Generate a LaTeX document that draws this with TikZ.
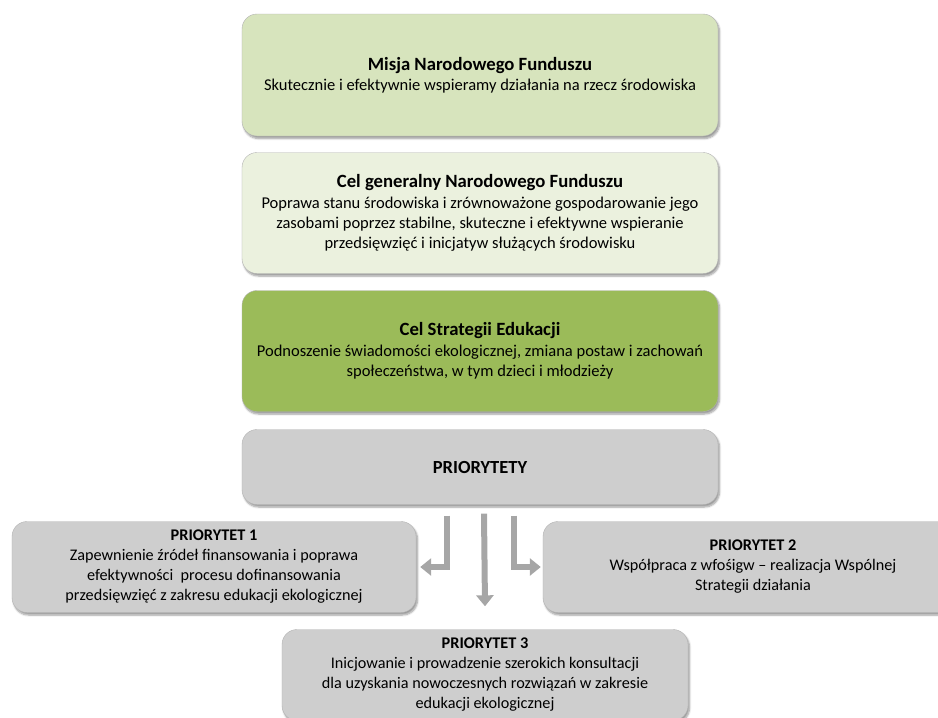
\documentclass[tikz,border=0pt]{standalone}
\usepackage{fontspec}
\setmainfont{Carlito}
\usepackage{xcolor}
\usepackage{tikz}
\usetikzlibrary{shapes.geometric, arrows.meta, positioning, shadows.blur}
\definecolor{zielen1}{RGB}{215,228,189}
\definecolor{zielen2}{RGB}{235,241,222}
\definecolor{zielen3}{RGB}{155,187,89}
\definecolor{szary}{RGB}{206,206,206}
\definecolor{strzalka}{RGB}{166,166,166}
\newcommand{\tytul}[1]{{\fontsize{18.7}{21}\selectfont\bfseries #1}}
\newcommand{\tytulp}[1]{{\fontsize{16.3}{20}\selectfont\bfseries #1}}
\tikzstyle{ramka} = [rectangle, rounded corners=15pt,
minimum width=476pt,
text centered,
align=center,
font=\fontsize{16.5}{20.3}\selectfont,
draw=black!30,
blur shadow={shadow xshift=1.5pt, shadow yshift=-2.5pt, shadow blur steps=6}]
\tikzstyle{misja} = [ramka, 
minimum height=122pt, 
fill=zielen1]
\tikzstyle{cel} = [ramka, 
minimum height=121pt, 
fill=zielen2]
\tikzstyle{strategia} = [ramka, 
minimum height=121pt, 
fill=zielen3]
\tikzstyle{priorytety} = [ramka, 
minimum height=75pt, 
fill=szary]
\tikzstyle{priorytet} = [ramka, 
font=\fontsize{16.2}{20}\selectfont,
minimum height=91pt, 
fill=szary]
\tikzstyle{arrow} = [line width=6pt, draw=strzalka, -{Triangle[width=17pt,length=11pt]}]

\begin{document}
\begin{tikzpicture}[node distance=138pt]

    \useasboundingbox (0,0) rectangle (938pt,-718pt);

    \node (misja) [misja] at (480pt,-75pt) {\tytul{Misja Narodowego Funduszu}\\
    Skutecznie i efektywnie wspieramy działania na rzecz środowiska};
    \node (cel) [cel, below of=misja] {\tytul{Cel generalny Narodowego Funduszu}\\
    Poprawa stanu środowiska i zrównoważone gospodarowanie jego\\
    zasobami poprzez stabilne, skuteczne i efektywne wspieranie\\
    przedsięwzięć i inicjatyw służących środowisku};
    \node (strategia) [strategia, below of=cel] {\tytul{Cel Strategii Edukacji}\\
    Podnoszenie świadomości ekologicznej, zmiana postaw i zachowań\\
    społeczeństwa, w tym dzieci i młodzieży};
    \node (prio) [priorytety, below of=strategia, yshift=22pt] {{\fontsize{18.5}{20}\selectfont\bfseries PRIORYTETY}};

    \node (p1) [priorytet, minimum width=404pt, below of=prio, xshift=-266pt, yshift=38pt] {\tytulp{PRIORYTET 1}\\
    Zapewnienie źródeł finansowania i poprawa\\
    efektywności\ \ procesu dofinansowania\\
    przedsięwzięć z zakresu edukacji ekologicznej};
    \node (p2) [priorytet, minimum width=420pt, below of=prio, xshift=273pt, yshift=38pt] {\tytulp{PRIORYTET 2}\\
    Współpraca z wfośigw – realizacja Wspólnej\\
    Strategii działania};
    \node (p3) [priorytet, minimum width=406pt, below of=prio, xshift=5pt, yshift=-70pt] {\tytulp{PRIORYTET 3}\\
    Inicjowanie i prowadzenie szerokich konsultacji\\
    dla uzyskania nowoczesnych rozwiązań w zakresie\\
    edukacji ekologicznej};

    \draw [arrow] ([xshift=-33pt, yshift=-11pt]prio.south) |- ([xshift=4pt]p1.east);
    \draw [arrow] ([xshift=4pt, yshift=-9pt]prio.south) -- ([yshift=23pt]p3.north);
    \draw [arrow] ([xshift=34pt, yshift=-11pt]prio.south) |- ([xshift=-2pt]p2.west);

\end{tikzpicture}
\end{document}
